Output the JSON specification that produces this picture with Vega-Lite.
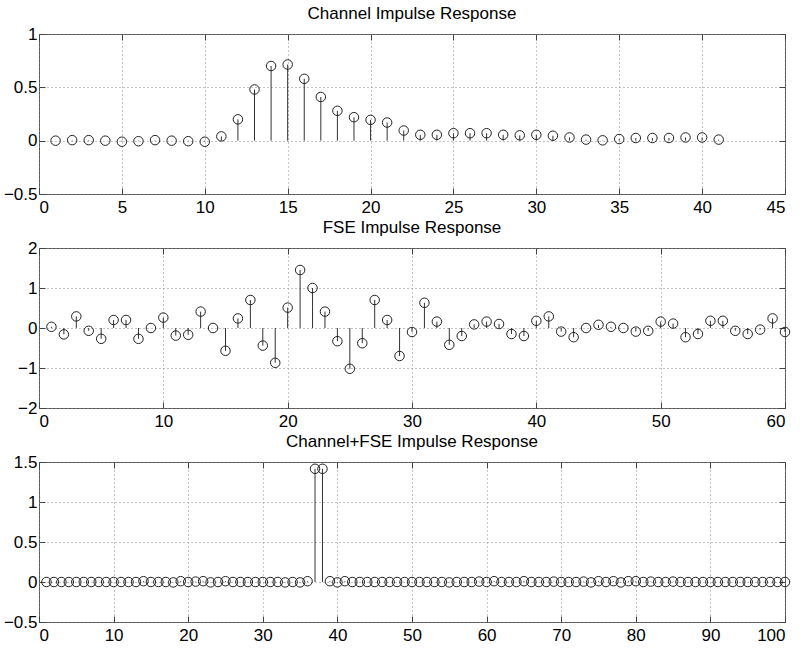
{
  "$schema": "https://vega.github.io/schema/vega-lite/v6.json",
  "padding": {"left": 2, "top": 4, "right": 5, "bottom": 4},
  "background": "white",
  "config": {
    "font": "Liberation Sans",
    "view": {"stroke": "#555", "strokeWidth": 1},
    "axis": {
      "labelFont": "Liberation Sans", "labelFontSize": 17, "labelColor": "#000",
      "domain": false, "tickColor": "#444", "tickSize": -6, "tickWidth": 1,
      "gridColor": "#888", "gridDash": [1, 3], "gridOpacity": 1, "gridWidth": 1,
      "title": null
    },
    "axisX": {"labelPadding": 11},
    "axisY": {"labelPadding": 8},
    "title": {"font": "Liberation Sans", "fontSize": 17, "fontWeight": "normal", "color": "#000", "baseline": "alphabetic", "offset": 2}
  },
  "datasets": {
    "ch": [
      {"n": 1, "h": 0.0}, {"n": 2, "h": 0.005}, {"n": 3, "h": 0.005}, {"n": 4, "h": 0.0}, {"n": 5, "h": -0.01},
      {"n": 6, "h": -0.005}, {"n": 7, "h": 0.005}, {"n": 8, "h": 0.0}, {"n": 9, "h": -0.005}, {"n": 10, "h": -0.01},
      {"n": 11, "h": 0.04}, {"n": 12, "h": 0.2}, {"n": 13, "h": 0.48}, {"n": 14, "h": 0.7}, {"n": 15, "h": 0.714},
      {"n": 16, "h": 0.58}, {"n": 17, "h": 0.41}, {"n": 18, "h": 0.28}, {"n": 19, "h": 0.22}, {"n": 20, "h": 0.195},
      {"n": 21, "h": 0.17}, {"n": 22, "h": 0.095}, {"n": 23, "h": 0.055}, {"n": 24, "h": 0.055}, {"n": 25, "h": 0.07},
      {"n": 26, "h": 0.07}, {"n": 27, "h": 0.07}, {"n": 28, "h": 0.055}, {"n": 29, "h": 0.05}, {"n": 30, "h": 0.055},
      {"n": 31, "h": 0.046}, {"n": 32, "h": 0.03}, {"n": 33, "h": 0.01}, {"n": 34, "h": 0.003}, {"n": 35, "h": 0.015},
      {"n": 36, "h": 0.025}, {"n": 37, "h": 0.025}, {"n": 38, "h": 0.025}, {"n": 39, "h": 0.03}, {"n": 40, "h": 0.03},
      {"n": 41, "h": 0.01}
    ],
    "fse": [
      {"n": 1, "h": 0.03}, {"n": 2, "h": -0.16}, {"n": 3, "h": 0.29}, {"n": 4, "h": -0.07}, {"n": 5, "h": -0.27},
      {"n": 6, "h": 0.2}, {"n": 7, "h": 0.2}, {"n": 8, "h": -0.27}, {"n": 9, "h": 0.0}, {"n": 10, "h": 0.26},
      {"n": 11, "h": -0.19}, {"n": 12, "h": -0.17}, {"n": 13, "h": 0.41}, {"n": 14, "h": 0.0}, {"n": 15, "h": -0.57},
      {"n": 16, "h": 0.24}, {"n": 17, "h": 0.7}, {"n": 18, "h": -0.44}, {"n": 19, "h": -0.87}, {"n": 20, "h": 0.51},
      {"n": 21, "h": 1.45}, {"n": 22, "h": 1.0}, {"n": 23, "h": 0.41}, {"n": 24, "h": -0.33}, {"n": 25, "h": -1.02},
      {"n": 26, "h": -0.38}, {"n": 27, "h": 0.7}, {"n": 28, "h": 0.2}, {"n": 29, "h": -0.7}, {"n": 30, "h": -0.1},
      {"n": 31, "h": 0.63}, {"n": 32, "h": 0.16}, {"n": 33, "h": -0.42}, {"n": 34, "h": -0.2}, {"n": 35, "h": 0.09},
      {"n": 36, "h": 0.16}, {"n": 37, "h": 0.1}, {"n": 38, "h": -0.15}, {"n": 39, "h": -0.2}, {"n": 40, "h": 0.18},
      {"n": 41, "h": 0.29}, {"n": 42, "h": -0.09}, {"n": 43, "h": -0.23}, {"n": 44, "h": 0.0}, {"n": 45, "h": 0.08},
      {"n": 46, "h": 0.03}, {"n": 47, "h": 0.0}, {"n": 48, "h": -0.09}, {"n": 49, "h": -0.07}, {"n": 50, "h": 0.16},
      {"n": 51, "h": 0.11}, {"n": 52, "h": -0.23}, {"n": 53, "h": -0.15}, {"n": 54, "h": 0.18}, {"n": 55, "h": 0.18},
      {"n": 56, "h": -0.07}, {"n": 57, "h": -0.15}, {"n": 58, "h": -0.04}, {"n": 59, "h": 0.24}, {"n": 60, "h": -0.1}
    ],
    "comb": [
      {"n": 1, "h": 0.0}, {"n": 2, "h": 0.0}, {"n": 3, "h": 0.0}, {"n": 4, "h": 0.0}, {"n": 5, "h": 0.0},
      {"n": 6, "h": 0.0}, {"n": 7, "h": 0.0}, {"n": 8, "h": 0.0}, {"n": 9, "h": 0.0}, {"n": 10, "h": 0.0},
      {"n": 11, "h": 0.0}, {"n": 12, "h": 0.0}, {"n": 13, "h": 0.0}, {"n": 14, "h": 0.01}, {"n": 15, "h": 0.0},
      {"n": 16, "h": 0.0}, {"n": 17, "h": 0.0}, {"n": 18, "h": -0.005}, {"n": 19, "h": 0.01}, {"n": 20, "h": 0.0},
      {"n": 21, "h": 0.005}, {"n": 22, "h": 0.01}, {"n": 23, "h": -0.005}, {"n": 24, "h": 0.0}, {"n": 25, "h": 0.01},
      {"n": 26, "h": 0.0}, {"n": 27, "h": 0.0}, {"n": 28, "h": 0.0}, {"n": 29, "h": 0.0}, {"n": 30, "h": 0.0},
      {"n": 31, "h": 0.0}, {"n": 32, "h": 0.0}, {"n": 33, "h": -0.005}, {"n": 34, "h": 0.0}, {"n": 35, "h": -0.005},
      {"n": 36, "h": 0.01}, {"n": 37, "h": 1.415}, {"n": 38, "h": 1.415}, {"n": 39, "h": 0.01}, {"n": 40, "h": -0.005},
      {"n": 41, "h": 0.01}, {"n": 42, "h": 0.0}, {"n": 43, "h": 0.0}, {"n": 44, "h": 0.0}, {"n": 45, "h": 0.0},
      {"n": 46, "h": 0.0}, {"n": 47, "h": 0.0}, {"n": 48, "h": 0.0}, {"n": 49, "h": 0.0}, {"n": 50, "h": 0.0},
      {"n": 51, "h": 0.0}, {"n": 52, "h": 0.0}, {"n": 53, "h": 0.0}, {"n": 54, "h": 0.0}, {"n": 55, "h": -0.005},
      {"n": 56, "h": 0.0}, {"n": 57, "h": 0.0}, {"n": 58, "h": 0.0}, {"n": 59, "h": 0.005}, {"n": 60, "h": 0.0},
      {"n": 61, "h": 0.01}, {"n": 62, "h": 0.0}, {"n": 63, "h": 0.0}, {"n": 64, "h": 0.0}, {"n": 65, "h": 0.01},
      {"n": 66, "h": 0.0}, {"n": 67, "h": 0.0}, {"n": 68, "h": 0.0}, {"n": 69, "h": 0.005}, {"n": 70, "h": 0.0},
      {"n": 71, "h": 0.0}, {"n": 72, "h": 0.0}, {"n": 73, "h": 0.005}, {"n": 74, "h": -0.005}, {"n": 75, "h": 0.01},
      {"n": 76, "h": 0.0}, {"n": 77, "h": 0.01}, {"n": 78, "h": -0.005}, {"n": 79, "h": 0.01}, {"n": 80, "h": 0.01},
      {"n": 81, "h": 0.0}, {"n": 82, "h": 0.005}, {"n": 83, "h": 0.0}, {"n": 84, "h": 0.0}, {"n": 85, "h": 0.005},
      {"n": 86, "h": 0.0}, {"n": 87, "h": 0.0}, {"n": 88, "h": 0.0}, {"n": 89, "h": 0.0}, {"n": 90, "h": 0.0},
      {"n": 91, "h": 0.0}, {"n": 92, "h": 0.0}, {"n": 93, "h": 0.0}, {"n": 94, "h": 0.0}, {"n": 95, "h": 0.0},
      {"n": 96, "h": 0.0}, {"n": 97, "h": 0.0}, {"n": 98, "h": 0.0}, {"n": 99, "h": 0.0}, {"n": 100, "h": 0.0}
    ]
  },
  "spacing": 54,
  "bounds": "flush",
  "vconcat": [
    {
      "title": "Channel Impulse Response",
      "width": 746, "height": 160,
      "data": {"name": "ch"},
      "layer": [
        {
          "mark": {"type": "rule", "color": "#333", "strokeWidth": 1},
          "encoding": {
            "x": {"field": "n", "type": "quantitative", "scale": {"domain": [0, 45], "nice": false, "zero": false},
                  "axis": {"values": [0, 5, 10, 15, 20, 25, 30, 35, 40, 45], "grid": true}},
            "y": {"field": "h", "type": "quantitative", "scale": {"domain": [-0.5, 1], "nice": false},
                  "axis": {"values": [-0.5, 0, 0.5, 1], "format": "~g", "grid": true}},
            "y2": {"datum": 0}
          }
        },
        {
          "mark": {"type": "point", "shape": "circle", "filled": false, "size": 90, "stroke": "#222", "strokeWidth": 1, "opacity": 1},
          "encoding": {
            "x": {"field": "n", "type": "quantitative",
                  "axis": {"orient": "top", "labels": false, "grid": false, "values": [0, 5, 10, 15, 20, 25, 30, 35, 40, 45]}},
            "y": {"field": "h", "type": "quantitative",
                  "axis": {"orient": "right", "labels": false, "grid": false, "values": [-0.5, 0, 0.5, 1]}}
          }
        }
      ],
      "resolve": {"axis": {"x": "independent", "y": "independent"}}
    },
    {
      "title": "FSE Impulse Response",
      "width": 746, "height": 160,
      "data": {"name": "fse"},
      "layer": [
        {
          "mark": {"type": "rule", "color": "#333", "strokeWidth": 1},
          "encoding": {
            "x": {"field": "n", "type": "quantitative", "scale": {"domain": [0, 60], "nice": false, "zero": false},
                  "axis": {"values": [0, 10, 20, 30, 40, 50, 60], "grid": true}},
            "y": {"field": "h", "type": "quantitative", "scale": {"domain": [-2, 2], "nice": false},
                  "axis": {"values": [-2, -1, 0, 1, 2], "format": "~g", "grid": true}},
            "y2": {"datum": 0}
          }
        },
        {
          "mark": {"type": "point", "shape": "circle", "filled": false, "size": 90, "stroke": "#222", "strokeWidth": 1, "opacity": 1},
          "encoding": {
            "x": {"field": "n", "type": "quantitative",
                  "axis": {"orient": "top", "labels": false, "grid": false, "values": [0, 10, 20, 30, 40, 50, 60]}},
            "y": {"field": "h", "type": "quantitative",
                  "axis": {"orient": "right", "labels": false, "grid": false, "values": [-2, -1, 0, 1, 2]}}
          }
        }
      ],
      "resolve": {"axis": {"x": "independent", "y": "independent"}}
    },
    {
      "title": "Channel+FSE Impulse Response",
      "width": 746, "height": 160,
      "data": {"name": "comb"},
      "layer": [
        {
          "mark": {"type": "rule", "color": "#333", "strokeWidth": 1},
          "encoding": {
            "x": {"field": "n", "type": "quantitative", "scale": {"domain": [0, 100], "nice": false, "zero": false},
                  "axis": {"values": [0, 10, 20, 30, 40, 50, 60, 70, 80, 90, 100], "grid": true}},
            "y": {"field": "h", "type": "quantitative", "scale": {"domain": [-0.5, 1.5], "nice": false},
                  "axis": {"values": [-0.5, 0, 0.5, 1, 1.5], "format": "~g", "grid": true}},
            "y2": {"datum": 0}
          }
        },
        {
          "mark": {"type": "point", "shape": "circle", "filled": false, "size": 90, "stroke": "#222", "strokeWidth": 1, "opacity": 1},
          "encoding": {
            "x": {"field": "n", "type": "quantitative",
                  "axis": {"orient": "top", "labels": false, "grid": false, "values": [0, 10, 20, 30, 40, 50, 60, 70, 80, 90, 100]}},
            "y": {"field": "h", "type": "quantitative",
                  "axis": {"orient": "right", "labels": false, "grid": false, "values": [-0.5, 0, 0.5, 1, 1.5]}}
          }
        }
      ],
      "resolve": {"axis": {"x": "independent", "y": "independent"}}
    }
  ]
}
